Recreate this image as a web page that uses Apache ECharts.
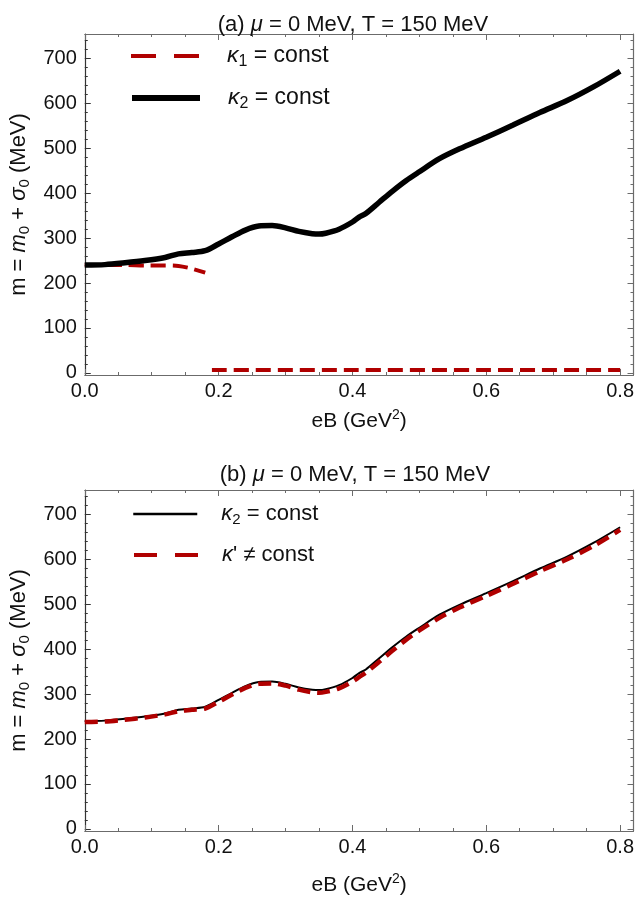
<!DOCTYPE html>
<html>
<head>
<meta charset="utf-8">
<script src="https://cdn.jsdelivr.net/npm/echarts@6/dist/echarts.min.js"></script>
<style>
html, body { margin: 0; padding: 0; background: #fff; }
#main { width: 637px; height: 897px; }
</style>
</head>
<body>
<div id="main"></div>
<script>
// eB in GeV^2, masses in MeV
var eB = [0, 0.03, 0.06, 0.09, 0.12, 0.14, 0.16, 0.18, 0.2, 0.22, 0.24, 0.26, 0.28, 0.3, 0.32, 0.34, 0.35, 0.36, 0.38, 0.4, 0.41, 0.42, 0.44, 0.46, 0.48, 0.5, 0.53, 0.56, 0.6, 0.64, 0.68, 0.72, 0.76, 0.8];
var kappa2 = [240, 241, 245, 250, 257, 265, 268, 272, 287, 303, 318, 327, 328, 323, 315, 310, 309, 311, 320, 336, 347, 355, 380, 405, 428, 448, 477, 499, 525, 552, 580, 606, 637, 672];
var kappaPrime = [238, 239, 243, 248, 255, 262, 265, 268, 283, 299, 314, 323, 324, 319, 310, 304, 303, 305, 313, 328, 338, 348, 372, 397, 421, 442, 470, 493, 519, 546, 574, 600, 630, 666];

// kappa1 = const jumps down near eB = 0.185
var eBk1Low = [0, 0.03, 0.06, 0.09, 0.12, 0.14, 0.16, 0.18];
var kappa1Low = [240, 240, 240, 239, 239, 238, 232, 223];
var eBk1High = [0.19, 0.8];
var kappa1High = [6, 6];

var xTicks = [0, 0.2, 0.4, 0.6, 0.8];
var yTicks = [0, 100, 200, 300, 400, 500, 600, 700];
var xMinor = [];
for (var i = 1; i <= 16; i++) { if (i % 4 != 0) xMinor.push(i * 0.05); }
var yMinor = [];
for (var j = 1; j <= 37; j++) { if (j % 5 != 0) yMinor.push(j * 20); }

var RED = '#b00000';
var FRAME = '#6b6b6b';
var FONT = 'Liberation Sans, Arial, sans-serif';

function pairs(xs, ys) {
    var out = [];
    for (var k = 0; k < xs.length; k++) out.push([xs[k], ys[k]]);
    return out;
}

var kappa1Data = pairs(eBk1Low, kappa1Low).concat([[0.185, null]]).concat(pairs(eBk1High, kappa1High));

function makeRich(size) {
    return {
        t: { fontSize: size, fontFamily: FONT, color: '#111', lineHeight: size + 5 },
        i: { fontSize: size, fontFamily: FONT, fontStyle: 'italic', color: '#111', lineHeight: size + 5 },
        s: { fontSize: Math.round(size * 0.68), fontFamily: FONT, color: '#111', lineHeight: Math.round(size * 0.68), verticalAlign: 'bottom' },
        sup: { fontSize: Math.round(size * 0.65), fontFamily: FONT, color: '#111', lineHeight: Math.round(size * 0.65), verticalAlign: 'top' }
    };
}

// one panel = 4 x axes + 4 y axes (major / minor ticks on every side of the frame)
function panelAxes(g, xNameGap) {
    var ymin = -5, ymax = 755;
    var xs = [
        {
            gridIndex: g, type: 'value', position: 'bottom', min: 0, max: 0.82,
            axisLine: { show: true, onZero: false, lineStyle: { color: FRAME, width: 1.2 } },
            axisTick: { show: true, inside: true, length: 6, customValues: xTicks, lineStyle: { color: FRAME } },
            axisLabel: { customValues: xTicks, fontSize: 20, fontFamily: FONT, color: '#111', margin: 6,
                         formatter: function (v) { return v.toFixed(1); } },
            splitLine: { show: false },
            name: '{t|eB (GeV}{sup|2}{t|)}', nameLocation: 'middle', nameGap: xNameGap,
            nameTextStyle: { rich: makeRich(21) }
        },
        {
            gridIndex: g, type: 'value', position: 'bottom', min: 0, max: 0.82,
            axisLine: { show: false, onZero: false },
            axisTick: { show: true, inside: true, length: 3, customValues: xMinor, lineStyle: { color: FRAME } },
            axisLabel: { show: false }, splitLine: { show: false }
        },
        {
            gridIndex: g, type: 'value', position: 'top', min: 0, max: 0.82,
            axisLine: { show: true, onZero: false, lineStyle: { color: FRAME, width: 1.2 } },
            axisTick: { show: true, inside: true, length: 6, customValues: xTicks, lineStyle: { color: FRAME } },
            axisLabel: { show: false }, splitLine: { show: false }
        },
        {
            gridIndex: g, type: 'value', position: 'top', min: 0, max: 0.82,
            axisLine: { show: false, onZero: false },
            axisTick: { show: true, inside: true, length: 3, customValues: xMinor, lineStyle: { color: FRAME } },
            axisLabel: { show: false }, splitLine: { show: false }
        }
    ];
    var ys = [
        {
            gridIndex: g, type: 'value', position: 'left', min: ymin, max: ymax,
            axisLine: { show: true, onZero: false, lineStyle: { color: '#333', width: 1.2 } },
            axisTick: { show: true, inside: true, length: 6, customValues: yTicks, lineStyle: { color: '#333' } },
            axisLabel: { customValues: yTicks, fontSize: 20, fontFamily: FONT, color: '#111', margin: 8 },
            splitLine: { show: false },
            name: '{t|m = }{i|m}{s|0}{t| + }{i|σ}{s|0}{t| (MeV)}', nameLocation: 'middle', nameGap: 49,
            nameTextStyle: { rich: makeRich(22) }
        },
        {
            gridIndex: g, type: 'value', position: 'left', min: ymin, max: ymax,
            axisLine: { show: false, onZero: false },
            axisTick: { show: true, inside: true, length: 3, customValues: yMinor, lineStyle: { color: '#333' } },
            axisLabel: { show: false }, splitLine: { show: false }
        },
        {
            gridIndex: g, type: 'value', position: 'right', min: ymin, max: ymax,
            axisLine: { show: true, onZero: false, lineStyle: { color: FRAME, width: 1.2 } },
            axisTick: { show: true, inside: true, length: 6, customValues: yTicks, lineStyle: { color: FRAME } },
            axisLabel: { show: false }, splitLine: { show: false }
        },
        {
            gridIndex: g, type: 'value', position: 'right', min: ymin, max: ymax,
            axisLine: { show: false, onZero: false },
            axisTick: { show: true, inside: true, length: 3, customValues: yMinor, lineStyle: { color: FRAME } },
            axisLabel: { show: false }, splitLine: { show: false }
        }
    ];
    return { x: xs, y: ys };
}

var axA = panelAxes(0, 33);
var axB = panelAxes(1, 41);

function legendLabel(name) {
    if (name == 'k1') return '{i|κ}{s|1}{t| = const}';
    if (name == 'k2a' || name == 'k2b') return '{i|κ}{s|2}{t| = const}';
    return '{i|κ}{t|\' ≠ const}';
}

function oneLegend(name, left, top, width, line, size, gap) {
    return {
        data: [{ name: name, lineStyle: line }],
        left: left, top: top, padding: 0,
        itemWidth: width, itemHeight: 30,
        itemStyle: { opacity: 0 },
        formatter: legendLabel,
        textStyle: { padding: [0, 0, 0, gap], rich: makeRich(size) },
        selectedMode: false
    };
}

var titleRich = { i: { fontSize: 22, fontStyle: 'italic', fontFamily: FONT, color: '#111' } };

var myChart = echarts.init(document.getElementById('main'), null, { renderer: 'canvas' });

var option = {
    animation: false,
    backgroundColor: '#fff',
    title: [
        { text: '(a) {i|μ} = 0 MeV, T = 150 MeV', left: 348, top: 9, textAlign: 'center',
          textStyle: { fontSize: 22, fontWeight: 'normal', fontFamily: FONT, color: '#111', rich: titleRich } },
        { text: '(b) {i|μ} = 0 MeV, T = 150 MeV', left: 350, top: 459, textAlign: 'center',
          textStyle: { fontSize: 22, fontWeight: 'normal', fontFamily: FONT, color: '#111', rich: titleRich } }
    ],
    legend: [
        oneLegend('k1', 129, 44, 68, { type: [25, 18], width: 4, color: RED }, 23, 23),
        oneLegend('k2a', 129, 86, 68, { type: 'solid', width: 6, color: '#000' }, 23, 23),
        oneLegend('k2b', 132, 502, 64, { type: 'solid', width: 2.5, color: '#000' }, 22, 19),
        oneLegend('kp', 132, 543, 64, { type: [23, 18], width: 4, color: RED }, 22, 19)
    ],
    grid: [
        { left: 84, top: 34, width: 552, height: 341 },
        { left: 84, top: 490, width: 552, height: 341 }
    ],
    xAxis: axA.x.concat(axB.x),
    yAxis: axA.y.concat(axB.y),
    series: [
        {
            name: 'k1', type: 'line', xAxisIndex: 0, yAxisIndex: 0,
            data: kappa1Data, symbol: 'none', smooth: 0.3, connectNulls: false,
            lineStyle: { color: RED, width: 4, type: [15, 7] }
        },
        {
            name: 'k2a', type: 'line', xAxisIndex: 0, yAxisIndex: 0,
            data: pairs(eB, kappa2), symbol: 'none', smooth: 0.3,
            lineStyle: { color: '#000', width: 5.5 }
        },
        {
            name: 'k2b', type: 'line', xAxisIndex: 4, yAxisIndex: 4,
            data: pairs(eB, kappa2), symbol: 'none', smooth: 0.3,
            lineStyle: { color: '#000', width: 2 }
        },
        {
            name: 'kp', type: 'line', xAxisIndex: 4, yAxisIndex: 4,
            data: pairs(eB, kappaPrime), symbol: 'none', smooth: 0.3,
            lineStyle: { color: RED, width: 4.5, type: [13, 7] }
        }
    ]
};

myChart.setOption(option);
</script>
</body>
</html>
